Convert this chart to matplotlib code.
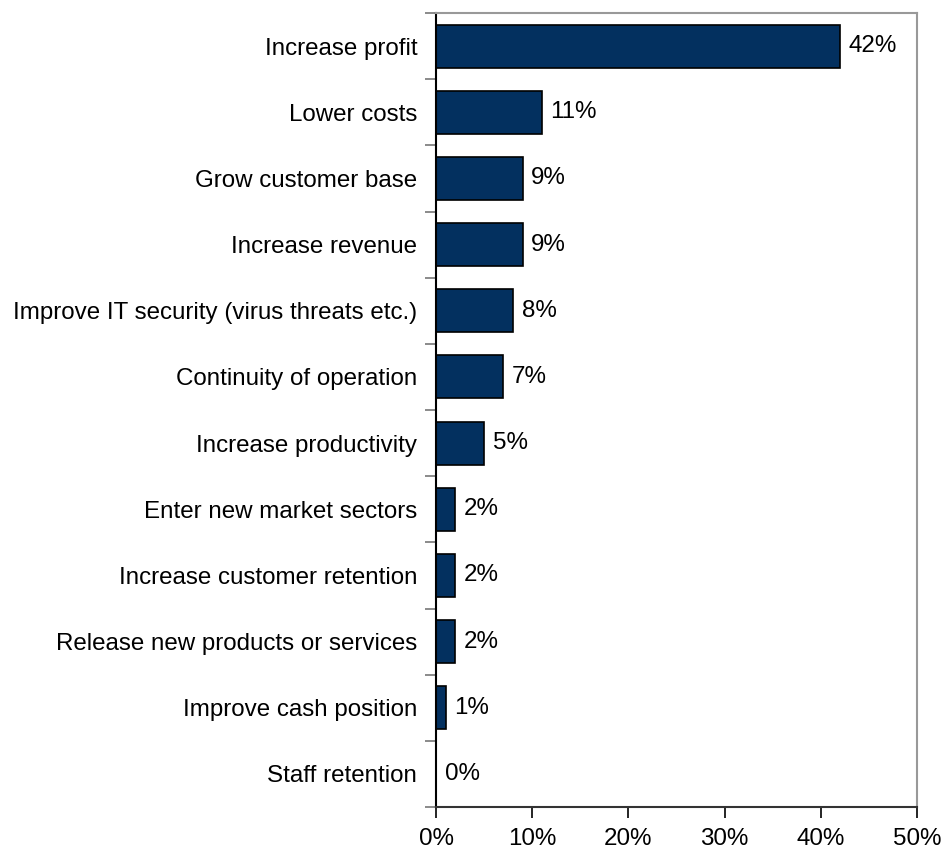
import matplotlib.pyplot as plt
import numpy as np

categories = ['Increase profit', 'Lower costs', 'Grow customer base', 'Increase revenue',
              'Improve IT security (virus threats etc.)', 'Continuity of operation',
              'Increase productivity', 'Enter new market sectors', 'Increase customer retention',
              'Release new products or services', 'Improve cash position', 'Staff retention']
values = [42, 11, 9, 9, 8, 7, 5, 2, 2, 2, 1, 0]
x_ticks = [0, 10, 20, 30, 40, 50]

plt.rcParams['font.family'] = ['Liberation Sans', 'DejaVu Sans']
fs = 17.4

fig = plt.figure(figsize=(9.45, 8.52), dpi=100)
ax = fig.add_axes([0.4614, 0.0528, 0.5090, 0.9319])

y = np.arange(len(categories))
ax.barh(y, values, height=0.65, color='#03305f', edgecolor='black', linewidth=1.2)
for yi, v in zip(y, values):
    ax.text(v + 0.9, yi, f'{v}%', va='center', ha='left', fontsize=fs)

ax.set_xlim(0, 50)
ax.set_ylim(len(categories) - 0.5, -0.5)
ax.set_xticks(x_ticks)
ax.set_xticklabels([f'{t}%' for t in x_ticks], fontsize=fs)
ax.set_yticks(y)
ax.set_yticklabels(categories, fontsize=fs)
ax.tick_params(axis='y', length=0, pad=13.5)
# ticks between categories
ax.set_yticks(np.arange(len(categories) + 1) - 0.5, minor=True)
ax.tick_params(axis='y', which='minor', length=8, color='#777777', width=1.2)
ax.tick_params(axis='x', length=8, width=1.2, pad=7)

ax.spines['left'].set_color('black')
ax.spines['bottom'].set_color('#333333')
ax.spines['top'].set_color('#999999')
ax.spines['right'].set_color('#999999')
for s in ax.spines.values():
    s.set_linewidth(1.5)

fig.savefig('out.png', dpi=100)
